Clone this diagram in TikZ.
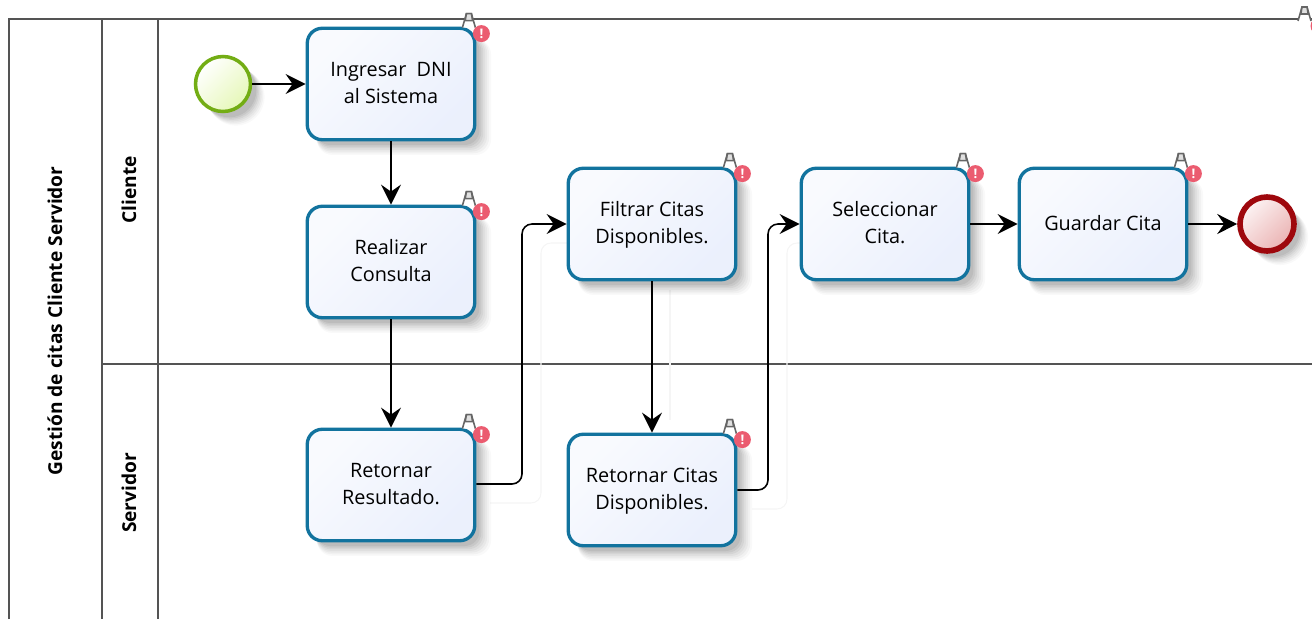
\documentclass[tikz,border=0pt]{standalone}
\usepackage{fontspec}
\setmainfont{Open Sans}
\usetikzlibrary{arrows.meta,shadows}
\definecolor{taskblue}{rgb}{0.07,0.45,0.62}
\definecolor{taskfill}{rgb}{0.92,0.94,0.99}
\definecolor{startgreen}{rgb}{0.45,0.68,0.08}
\definecolor{startfill}{rgb}{0.90,0.97,0.72}
\definecolor{endred}{rgb}{0.62,0.03,0.05}
\definecolor{endfill}{rgb}{0.92,0.70,0.70}
\definecolor{badgered}{rgb}{0.92,0.36,0.44}
\definecolor{lanegray}{rgb}{0.33,0.33,0.33}
\newcommand{\taskstrut}{\rule{0pt}{10.5pt}}
\tikzset{
  softshadow/.style={
    drop shadow={shadow xshift=0.25cm,shadow yshift=-0.25cm,shadow scale=1.04,opacity=0.025,fill=black},
    drop shadow={shadow xshift=0.23cm,shadow yshift=-0.23cm,shadow scale=1.03,opacity=0.03,fill=black},
    drop shadow={shadow xshift=0.21cm,shadow yshift=-0.21cm,shadow scale=1.02,opacity=0.035,fill=black},
    drop shadow={shadow xshift=0.19cm,shadow yshift=-0.19cm,shadow scale=1.01,opacity=0.04,fill=black},
    drop shadow={shadow xshift=0.17cm,shadow yshift=-0.17cm,shadow scale=1.00,opacity=0.05,fill=black},
    drop shadow={shadow xshift=0.15cm,shadow yshift=-0.15cm,shadow scale=0.99,opacity=0.06,fill=black},
    drop shadow={shadow xshift=0.13cm,shadow yshift=-0.13cm,shadow scale=0.98,opacity=0.06,fill=black}},
  task/.style={rectangle,rounded corners=0.3cm,draw=taskblue,line width=1.9pt,
    minimum width=3.35cm,minimum height=2.23cm,align=center,font=\fontsize{11.3}{15.5}\selectfont,
    execute at end node=\rule[-3.5pt]{0pt}{3.5pt},
    top color=white!70!taskfill,bottom color=taskfill,shading angle=45,softshadow},
  startev/.style={circle,draw=startgreen,line width=2pt,minimum size=1.1cm,inner sep=0pt,
    top color=white,bottom color=startfill,shading angle=45,softshadow},
  endev/.style={circle,draw=endred,line width=3.2pt,minimum size=1.08cm,inner sep=0pt,
    top color=white!85!endfill,bottom color=endfill,shading angle=45,softshadow},
  flow/.style={draw=black,line width=0.9pt,rounded corners=0.2cm,-{Stealth[length=4mm,width=4mm,inset=1.4mm]}},
  ghost/.style={draw=black!4,line width=0.6pt,rounded corners=0.2cm},
  lane/.style={draw=lanegray,line width=0.8pt},
  lanetext/.style={rotate=90,font=\fontsize{10.9}{12}\selectfont\bfseries},
  dotnode/.style={circle,fill=badgered,minimum size=0.34cm,inner sep=0pt,text=white,
    font=\fontsize{7.5}{7.5}\selectfont\bfseries},
  mast/.pic={
    \draw[black!60,line width=0.9pt,fill=white] (-14,1) -- (-10,-13) -- (-5,-13) -- (-1,1);
    \draw[black!60,line width=0.9pt,fill=black!12] (-10,-13) -- (-5,-13) -- (-3.8,-6) -- (-11.2,-6) -- cycle;
  },
  badge/.pic={
    \pic {mast};
    \node[dotnode] (-dot) at (5,7) {!};
  }
}

\begin{document}
\begin{tikzpicture}[x=0.02cm,y=-0.02cm]
  \useasboundingbox (0,0) rectangle (1312,619);

  % pool and lanes
  \coordinate (p1) at (9,619);
  \coordinate (p2) at (9,19);
  \coordinate (p3) at (1312,19);
  \coordinate (p4) at (102,19);
  \coordinate (p5) at (102,619);
  \coordinate (p6) at (158,19);
  \coordinate (p7) at (158,619);
  \coordinate (p8) at (102,364);
  \coordinate (p9) at (1312,364);
  \draw[lane] (p1) -- (p2) -- (p3);
  \draw[lane] (p4) -- (p5);
  \draw[lane] (p6) -- (p7);
  \draw[lane] (p8) -- (p9);
  \node[lanetext] (l1) at (55,321) {Gestión de citas Cliente Servidor};
  \node[lanetext] (l2) at (129,190) {Cliente};
  \node[lanetext] (l3) at (129,493) {Servidor};

  % ghost lines
  \coordinate (g1) at (490,503);
  \coordinate (g2) at (541,503);
  \coordinate (g3) at (541,243);
  \coordinate (g4) at (568,243);
  \coordinate (g5) at (752,509);
  \coordinate (g6) at (787,509);
  \coordinate (g7) at (787,243);
  \coordinate (g8) at (801,243);
  \coordinate (g9) at (670,290);
  \coordinate (g10) at (670,420);
  \draw[ghost] (g1) -- (g2) -- (g3) -- (g4);
  \draw[ghost] (g5) -- (g6) -- (g7) -- (g8);
  \draw[ghost] (g9) -- (g10);

  \node[startev] (n0) at (223,84) {};
  \node[task] (n1) at (391,84) {\taskstrut Ingresar\ \ DNI\\al Sistema};
  \node[task] (n2) at (391,262) {\taskstrut Realizar\\Consulta};
  \node[task] (n3) at (391,485) {\taskstrut Retornar\\Resultado.};
  \node[task] (n4) at (652,224) {\taskstrut Filtrar Citas\\Disponibles.};
  \node[task] (n5) at (652,490) {\taskstrut Retornar Citas\\Disponibles.};
  \node[task] (n6) at (885,224) {\taskstrut Seleccionar\\Cita.};
  \node[task] (n7) at (1103,224) {\taskstrut Guardar Cita};
  \node[endev] (n8) at (1267,224) {};

  \coordinate (c1) at (522,484);
  \coordinate (c2) at (768,490);
  \foreach \from/\to in {n0/n1,n1/n2,n2/n3,n4/n5,n6/n7,n7/n8}
    \draw[flow] (\from) -- (\to);
  \draw[flow] (n3.east |- c1) -- (c1) |- (n4.west);
  \draw[flow] (n5.east |- c2) -- (c2) |- (n6.west);

  % warnings
  \foreach \n in {n1,n2,n3,n4,n5,n6,n7}
    \pic (b\n) at (\n.north east) {badge};
  \coordinate (n9) at (1312,20);
  \pic (bn9) at (n9) {mast};
  \node[dotnode] (n10) at (1319,26) {};
\end{tikzpicture}
\end{document}
